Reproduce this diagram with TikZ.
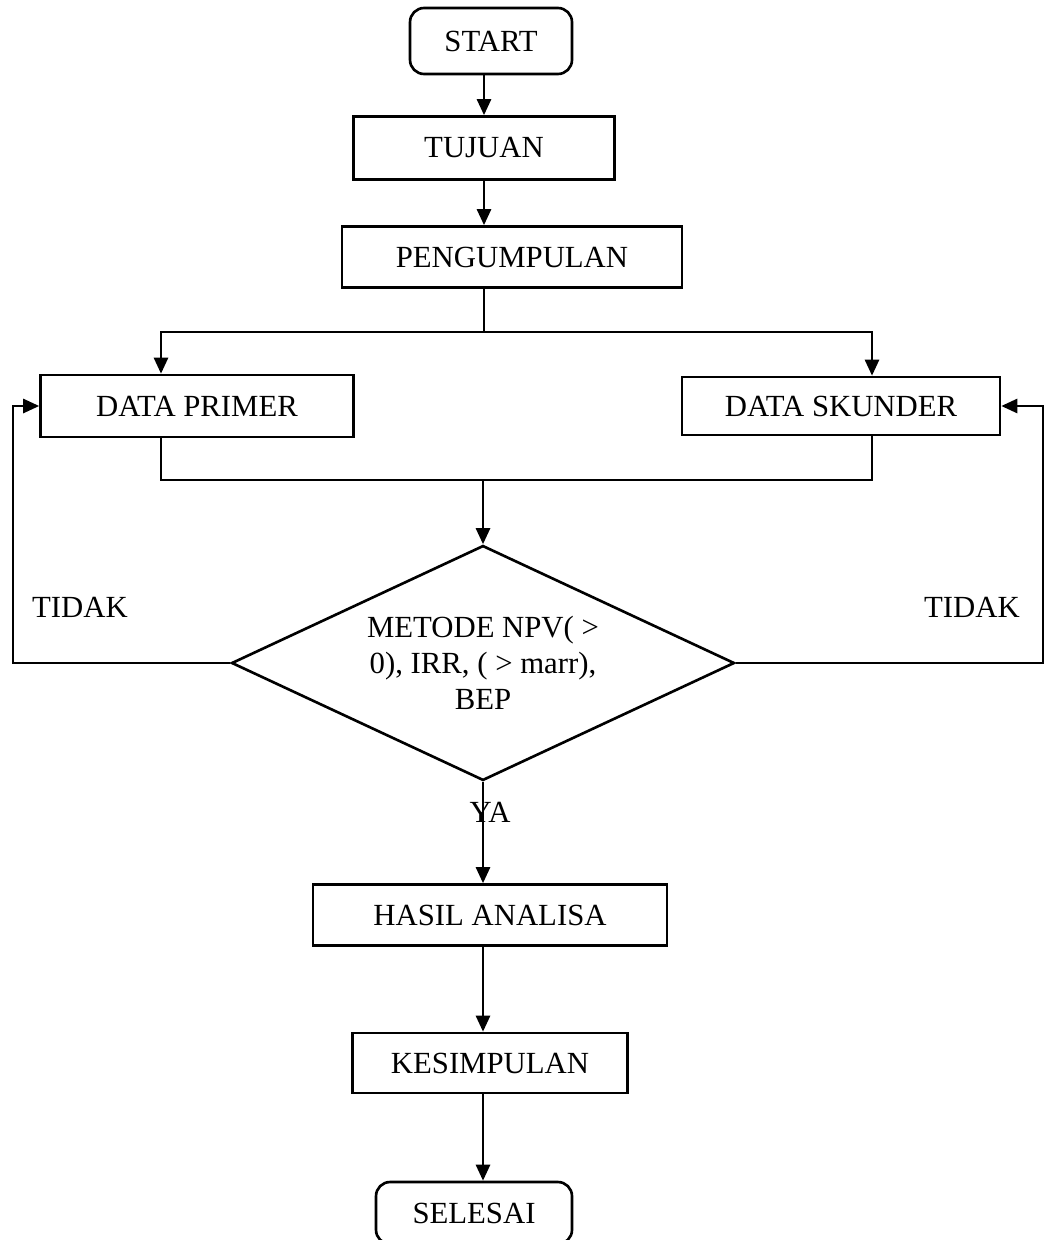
\documentclass[tikz,border=0pt]{standalone}
\usepackage{fontspec}
\setmainfont{Liberation Serif}
\usetikzlibrary{arrows.meta,shapes.geometric}

\begin{document}
\begin{tikzpicture}[x=0.02cm, y=-0.02cm,
      every node/.style={font=\fontsize{17.5}{20.5}\selectfont},
      box/.style={rectangle, draw, line width=1.5pt, inner sep=0pt},
      term/.style={box, rounded corners=8pt},
      cek/.style={diamond, draw, line width=1.5pt, inner sep=0pt, shape aspect=2.14,
        minimum width=10.06cm, minimum height=4.7cm, align=center},
      arr/.style={line width=1.5pt, -{Triangle[length=0.32cm, width=0.28cm]}},
      garis/.style={line width=1.5pt}
      ]
      \useasboundingbox (0,0) rectangle (1045,1240);
      % kotak-kotak
      \node[term, minimum width=3.24cm, minimum height=1.32cm] (start) at (491,41) {START};
      \node[box, minimum width=5.22cm, minimum height=1.26cm] (tujuan) at (484,148) {TUJUAN};
      \node[box, minimum width=6.8cm, minimum height=1.22cm] (pengumpulan) at (512,257) {PENGUMPULAN};
      \node[box, minimum width=6.26cm, minimum height=1.24cm] (primer) at (197,406) {DATA PRIMER};
      \node[box, minimum width=6.36cm, minimum height=1.16cm] (skunder) at (841,406) {DATA SKUNDER};
      \node[cek] (metode) at (483,663) {METODE NPV( >\\0), IRR, ( > marr),\\BEP};
      \node[box, minimum width=7.08cm, minimum height=1.22cm] (hasil) at (490,915) {HASIL ANALISA};
      \node[box, minimum width=5.5cm, minimum height=1.2cm] (kesimpulan) at (490,1063) {KESIMPULAN};
      \node[term, minimum width=3.92cm, minimum height=1.24cm] (selesai) at (474,1213) {SELESAI};
      % label
      \node (tidakkiri) at (80,607) {TIDAK};
      \node (tidakkanan) at (972,607) {TIDAK};
      \node (ya) at (490,812) {YA};
      % titik bantu
      \coordinate (split) at (484,332);
      \coordinate (sl) at (161,332);
      \coordinate (sr) at (872,332);
      \coordinate (join) at (483,480);
      \coordinate (lb) at (13,663);
      \coordinate (rb) at (1043,663);
      % panah
      \draw[arr] (tujuan.north |- start.south) -- (tujuan.north);
      \draw[arr] (tujuan.south) -- (tujuan.south |- pengumpulan.north);
      \draw[garis] (split |- pengumpulan.south) -- (split);
      \draw[arr] (split) -- (sl) -- (sl |- primer.north);
      \draw[arr] (split) -- (sr) -- (sr |- skunder.north);
      \draw[garis] (sl |- primer.south) -- (sl |- join) -- (sr |- join) -- (sr |- skunder.south);
      \draw[arr] (join) -- (metode.north);
      \draw[arr] (metode.west) -- (lb) |- (primer.west);
      \draw[arr] (metode.east) -- (rb) |- (skunder.east);
      \draw[arr] (metode.south) -- (metode.south |- hasil.north);
      \draw[arr] (metode.south |- hasil.south) -- (metode.south |- kesimpulan.north);
      \draw[arr] (metode.south |- kesimpulan.south) -- (metode.south |- selesai.north);
    \end{tikzpicture}
\end{document}
